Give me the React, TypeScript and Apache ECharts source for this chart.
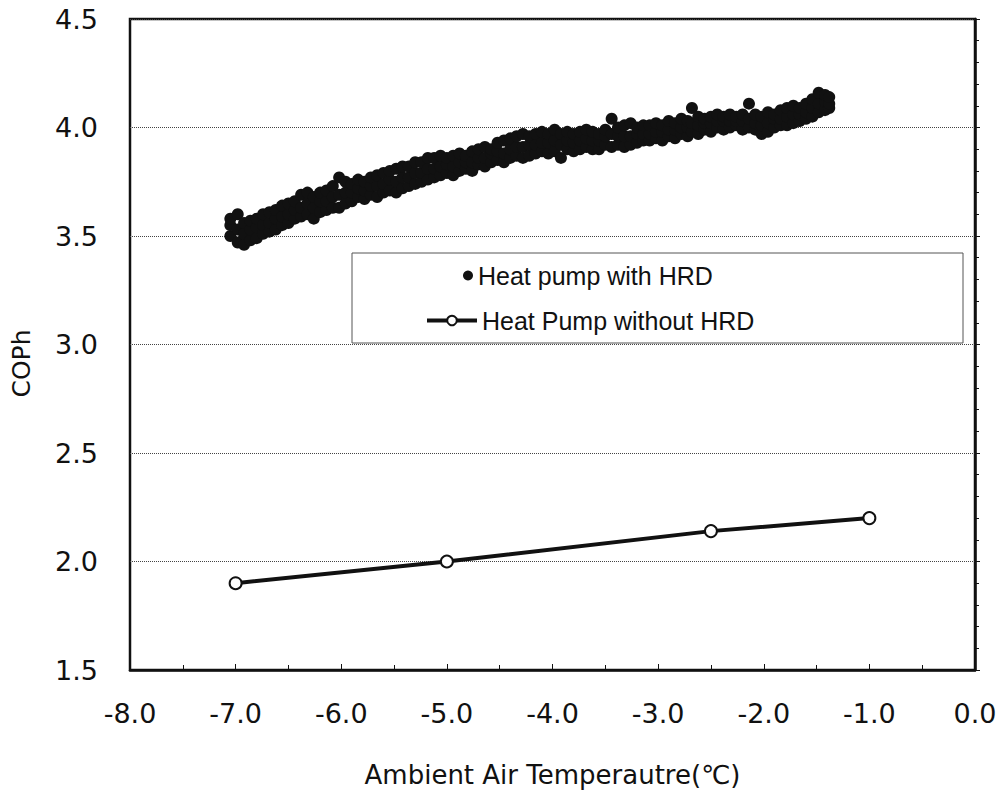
import React, { useEffect, useRef } from "react";
import * as echarts from "echarts";

// Heat pump with HRD: each row = [temperature, low COPh, mid COPh, high COPh]
const hrdColumns: number[][] = [
  [-7.05, 3.50, 3.55, 3.58], [-6.98, 3.47, 3.53, 3.60], [-6.92, 3.46, 3.51, 3.56],
  [-6.86, 3.48, 3.53, 3.57], [-6.80, 3.49, 3.54, 3.58], [-6.74, 3.51, 3.55, 3.60],
  [-6.68, 3.52, 3.56, 3.61], [-6.62, 3.53, 3.58, 3.62], [-6.56, 3.55, 3.59, 3.64],
  [-6.50, 3.56, 3.60, 3.65], [-6.44, 3.58, 3.62, 3.66], [-6.38, 3.59, 3.63, 3.69],
  [-6.32, 3.60, 3.65, 3.70], [-6.26, 3.58, 3.63, 3.68], [-6.20, 3.61, 3.66, 3.70],
  [-6.14, 3.62, 3.66, 3.71], [-6.08, 3.63, 3.68, 3.73], [-6.02, 3.63, 3.69, 3.77],
  [-5.96, 3.65, 3.70, 3.75], [-5.90, 3.66, 3.70, 3.74], [-5.84, 3.68, 3.72, 3.76],
  [-5.78, 3.67, 3.71, 3.75], [-5.72, 3.69, 3.73, 3.77], [-5.66, 3.68, 3.73, 3.78],
  [-5.60, 3.70, 3.74, 3.79], [-5.54, 3.71, 3.76, 3.80], [-5.48, 3.70, 3.75, 3.81],
  [-5.42, 3.72, 3.77, 3.82], [-5.36, 3.73, 3.77, 3.82], [-5.30, 3.74, 3.79, 3.84],
  [-5.24, 3.75, 3.79, 3.84], [-5.18, 3.76, 3.81, 3.86], [-5.12, 3.77, 3.81, 3.86],
  [-5.06, 3.78, 3.82, 3.87], [-5.00, 3.79, 3.83, 3.86], [-4.94, 3.78, 3.82, 3.87],
  [-4.88, 3.80, 3.84, 3.88], [-4.82, 3.81, 3.84, 3.87], [-4.76, 3.80, 3.84, 3.89],
  [-4.70, 3.83, 3.86, 3.90], [-4.64, 3.82, 3.86, 3.91], [-4.58, 3.84, 3.88, 3.90],
  [-4.52, 3.85, 3.89, 3.93], [-4.46, 3.84, 3.88, 3.94], [-4.40, 3.86, 3.90, 3.95],
  [-4.34, 3.87, 3.91, 3.96], [-4.28, 3.86, 3.91, 3.97], [-4.22, 3.87, 3.92, 3.96],
  [-4.16, 3.88, 3.92, 3.97], [-4.10, 3.89, 3.93, 3.98], [-4.04, 3.88, 3.93, 3.97],
  [-3.98, 3.89, 3.94, 3.99], [-3.92, 3.86, 3.92, 3.97], [-3.86, 3.90, 3.94, 3.98],
  [-3.80, 3.89, 3.93, 3.97], [-3.74, 3.90, 3.94, 3.98], [-3.68, 3.91, 3.95, 3.99],
  [-3.62, 3.90, 3.94, 3.98], [-3.56, 3.90, 3.94, 3.97], [-3.50, 3.92, 3.96, 3.99],
  [-3.44, 3.91, 3.97, 4.04], [-3.38, 3.92, 3.96, 4.00], [-3.32, 3.91, 3.96, 4.01],
  [-3.26, 3.92, 3.96, 4.02], [-3.20, 3.93, 3.97, 4.00], [-3.14, 3.94, 3.97, 4.01],
  [-3.08, 3.94, 3.97, 4.01], [-3.02, 3.95, 3.98, 4.02], [-2.96, 3.94, 3.98, 4.01],
  [-2.90, 3.96, 3.99, 4.03], [-2.84, 3.95, 3.99, 4.02], [-2.78, 3.97, 4.00, 4.04],
  [-2.72, 3.96, 4.00, 4.03], [-2.68, 3.98, 4.02, 4.09], [-2.62, 3.97, 4.01, 4.05],
  [-2.56, 3.99, 4.02, 4.04], [-2.50, 3.98, 4.02, 4.05], [-2.44, 4.00, 4.03, 4.06],
  [-2.38, 3.99, 4.03, 4.05], [-2.32, 4.00, 4.03, 4.06], [-2.26, 4.01, 4.03, 4.05],
  [-2.20, 3.99, 4.03, 4.06], [-2.14, 4.00, 4.04, 4.11], [-2.08, 3.99, 4.02, 4.06],
  [-2.02, 3.97, 4.01, 4.05], [-1.96, 3.98, 4.02, 4.07], [-1.90, 4.00, 4.04, 4.06],
  [-1.84, 4.01, 4.04, 4.08], [-1.78, 4.01, 4.05, 4.09], [-1.72, 4.02, 4.06, 4.10],
  [-1.66, 4.03, 4.06, 4.09], [-1.60, 4.04, 4.07, 4.11], [-1.54, 4.05, 4.09, 4.13],
  [-1.48, 4.07, 4.11, 4.16], [-1.42, 4.08, 4.12, 4.15], [-1.38, 4.09, 4.11, 4.14],
];

// Heat Pump without HRD
const noHrdTemps = [-7.0, -5.0, -2.5, -1.0];
const noHrdCop = [1.9, 2.0, 2.14, 2.2];

const seriesNames = ["Heat pump with HRD", "Heat Pump without HRD"];
const xAxisTitle = "Ambient Air Temperautre(℃)";
const yAxisTitle = "COPh";

const FONT = "'Liberation Sans', Arial, sans-serif";
const TICK_FONT = "'DejaVu Sans', 'Liberation Sans', sans-serif";

export default function App() {
  const ref = useRef<HTMLDivElement>(null);

  useEffect(() => {
    if (!ref.current) return;
    const chart = echarts.init(ref.current, undefined, { renderer: "svg" });

    const hrdData: number[][] = [];
    hrdColumns.forEach((c) => {
      hrdData.push([c[0], c[1]], [c[0], c[2]], [c[0], c[3]]);
    });
    const noHrdData = noHrdTemps.map((t, i) => [t, noHrdCop[i]]);

    chart.setOption({
      animation: false,
      backgroundColor: "#fff",
      textStyle: { fontFamily: FONT, color: "#111" },
      grid: {
        left: 130,
        right: 25,
        top: 19,
        bottom: 120,
        show: true,
        borderColor: "#111",
        borderWidth: 2.5,
        backgroundColor: "transparent",
      },
      xAxis: {
        type: "value",
        min: -8,
        max: 0,
        interval: 1,
        name: xAxisTitle,
        nameLocation: "middle",
        nameGap: 92,
        nameTextStyle: { fontSize: 26, fontFamily: TICK_FONT, color: "#111" },
        axisLine: { show: true, lineStyle: { color: "#111", width: 2.5 } },
        axisTick: { show: true, inside: true, length: 6, lineStyle: { color: "#111", width: 1 } },
        minorTick: { show: true, splitNumber: 2, length: 5, lineStyle: { color: "#111", width: 1 } },
        splitLine: { show: false },
        axisLabel: {
          fontSize: 27,
          fontFamily: TICK_FONT,
          color: "#111",
          margin: 30,
          formatter: (v: number) => v.toFixed(1),
        },
      },
      yAxis: {
        type: "value",
        min: 1.5,
        max: 4.5,
        interval: 0.5,
        name: yAxisTitle,
        nameLocation: "middle",
        nameGap: 96,
        nameTextStyle: {
          fontSize: 25,
          fontFamily: TICK_FONT,
          color: "#111",
          padding: [0, 38, 0, 0],
        },
        axisLine: { show: true, lineStyle: { color: "#111", width: 2.5 } },
        axisTick: { show: true, inside: true, length: 5, lineStyle: { color: "#111", width: 1 } },
        minorTick: { show: true, splitNumber: 5, length: 4, lineStyle: { color: "#111", width: 1 } },
        splitLine: { show: true, lineStyle: { color: "#444", type: "dotted", width: 1 } },
        axisLabel: {
          fontSize: 27,
          fontFamily: TICK_FONT,
          color: "#111",
          margin: 32,
          formatter: (v: number) => v.toFixed(1),
        },
      },
      graphic: [
        {
          type: "rect",
          z: 3,
          shape: { x: 352, y: 253, width: 611, height: 90 },
          style: { fill: "#fff", stroke: "#555", lineWidth: 1 },
        },
      ],
      legend: [
        {
          data: [seriesNames[0]],
          left: 463,
          top: 263,
          padding: 0,
          itemWidth: 10,
          itemHeight: 10,
          textStyle: { fontSize: 25, fontFamily: FONT, color: "#111" },
          z: 5,
        },
        {
          data: [seriesNames[1]],
          left: 425,
          top: 308,
          padding: 0,
          itemWidth: 50,
          itemHeight: 12,
          lineStyle: { width: 4, color: "#111" },
          textStyle: { fontSize: 25, fontFamily: FONT, color: "#111" },
          z: 5,
        },
      ],
      series: [
        {
          name: seriesNames[0],
          type: "scatter",
          data: hrdData,
          symbol: "circle",
          symbolSize: 12,
          itemStyle: { color: "#111", opacity: 1 },
          z: 3,
        },
        {
          name: seriesNames[1],
          type: "line",
          data: noHrdData,
          symbol: "emptyCircle",
          symbolSize: 12,
          lineStyle: { color: "#111", width: 4 },
          itemStyle: { color: "#111", borderWidth: 2 },
          z: 3,
        },
      ],
    });

    return () => chart.dispose();
  }, []);

  return (
    <div
      ref={ref}
      style={{ position: "fixed", left: 0, top: 0, width: 1000, height: 793, background: "#fff" }}
    />
  );
}
